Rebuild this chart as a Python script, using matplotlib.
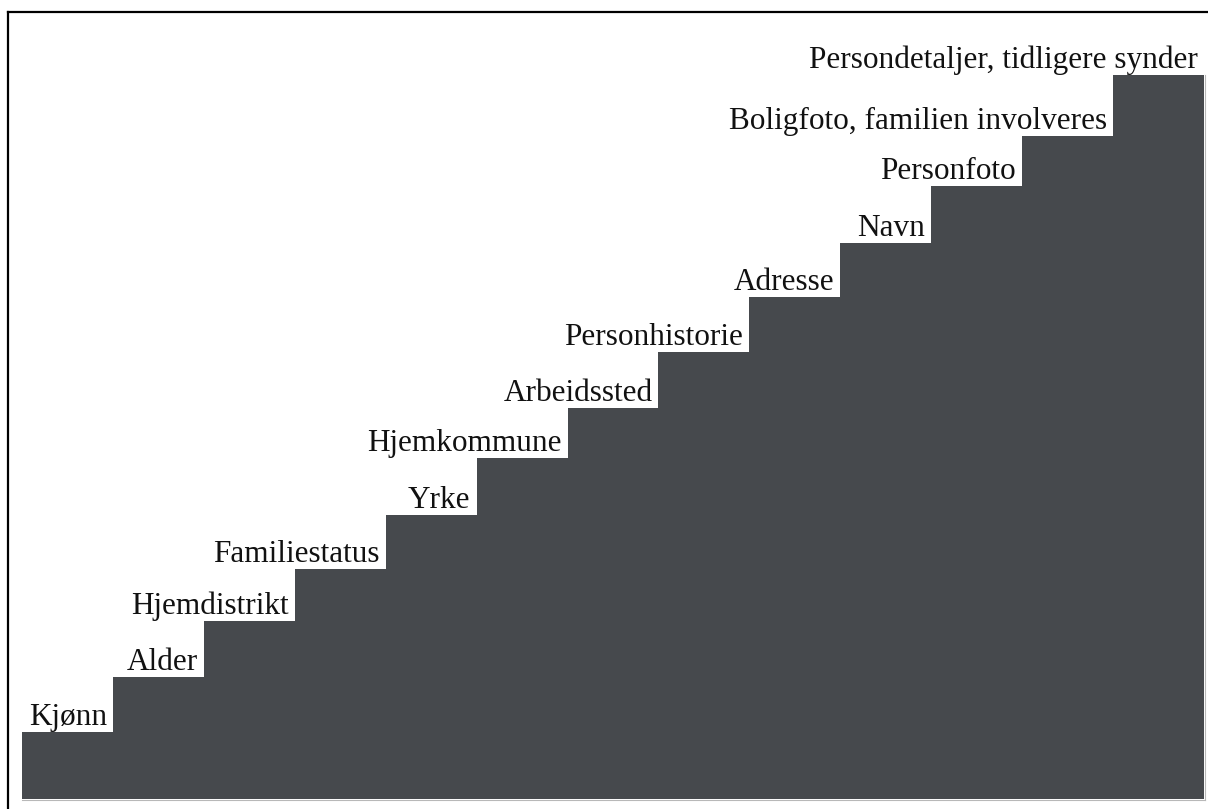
import matplotlib.pyplot as plt
import matplotlib.transforms as mtransforms
from matplotlib.lines import Line2D

labels = ["Kjønn", "Alder", "Hjemdistrikt", "Familiestatus", "Yrke",
          "Hjemkommune", "Arbeidssted", "Personhistorie", "Adresse", "Navn",
          "Personfoto", "Boligfoto, familien involveres",
          "Persondetaljer, tidligere synder"]
heights = [67, 122, 178, 230, 284, 341, 391, 447, 502, 556, 613, 663, 724]

fig = plt.figure(figsize=(12.08, 8.09), dpi=100)
W, H = 1208, 809
ax = fig.add_axes([22 / W, (H - 799) / H, (1204 - 22) / W, (799 - 12) / H])
ax.bar(range(len(heights)), heights, width=1, align='edge',
       color='#46494d', linewidth=0)
ax.set_xlim(0, len(heights))
ax.set_ylim(0, 787)
ax.axis('off')

# labels sit just above each step, right aligned near its right edge
off = mtransforms.offset_copy(ax.transData, fig=fig, x=-6, y=7, units='dots')
for i, (lab, h) in enumerate(zip(labels, heights)):
    ax.text(i + 1, h, lab, transform=off, ha='right', va='baseline',
            fontsize=22.5, family='Liberation Serif', color='#111111')

# frame lines
fig.add_artist(Line2D([8 / W, 1], [1 - 12 / H, 1 - 12 / H], color='black', lw=1.6))
fig.add_artist(Line2D([8 / W, 8 / W], [0, 1 - 12 / H], color='black', lw=1.6))
fig.add_artist(Line2D([22 / W, 1205 / W], [1 - 800 / H, 1 - 800 / H], color='#b8b8b8', lw=0.8))
fig.add_artist(Line2D([1205 / W, 1205 / W], [1 - 800 / H, 1 - 75 / H], color='#b8b8b8', lw=0.8))

fig.savefig('out.png', dpi=100)
